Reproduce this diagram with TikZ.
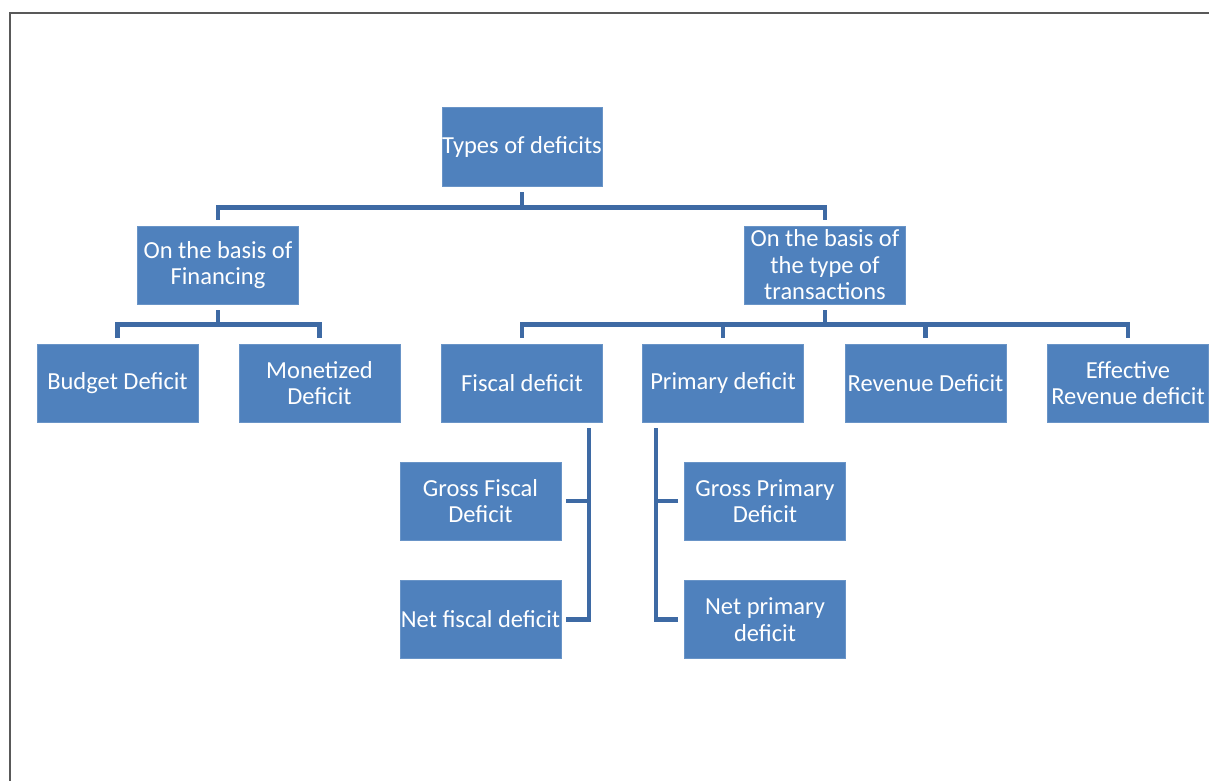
\documentclass[tikz,border=0pt]{standalone}
\usepackage{fontspec}
\setmainfont{Carlito}
\definecolor{boxblue}{HTML}{4F81BD}
\definecolor{lineblue}{RGB}{62,106,164}
\tikzset{
  dbox/.style={fill=boxblue, draw=boxblue!85!white, line width=0.8pt, text=white, align=center,
    minimum width=161pt, minimum height=78pt, inner sep=0pt,
    font=\fontsize{24.5}{26.5}\selectfont},
  conn/.style={draw=lineblue, line width=4.5pt},
}
\begin{document}
\begin{tikzpicture}[x=1pt,y=-1pt]
\useasboundingbox (0,0) rectangle (1209,780);
\fill[white] (0,0) rectangle (1209,780);
\draw[gray!70!black, line width=2.5pt] (10,782) -- (10,13) -- (1211,13);

\node[dbox, minimum width=160pt, minimum height=79pt] (root) at (522,146.5) {Types of deficits};
\node[dbox] (fin) at (218,265) {On the basis of\\Financing};
\node[dbox] (trans) at (825,265) {On the basis of\\the type of\\transactions};

\node[dbox] (budget) at (117.5,383) {Budget Deficit};
\node[dbox] (monet) at (319.5,383) {Monetized\\Deficit};
\node[dbox] (fiscal) at (522,383) {Fiscal deficit};
\node[dbox] (primary) at (723,383) {Primary deficit};
\node[dbox] (revenue) at (925.5,383) {Revenue Deficit};
\node[dbox] (effective) at (1128,383) {Effective\\Revenue deficit};

\node[dbox] (gfd) at (480.5,501) {Gross Fiscal\\Deficit};
\node[dbox] (nfd) at (480.5,619.5) {Net fiscal deficit};
\node[dbox] (gpd) at (765,501) {Gross Primary\\Deficit};
\node[dbox] (npd) at (765,619.5) {Net primary\\deficit};

% level 1
\draw[conn] ([yshift=-6pt]root.south) -- ++(0,15) coordinate (j1);
\draw[conn] ([yshift=6pt]fin.north) |- (j1) -| ([yshift=6pt]trans.north);

% financing children
\draw[conn] ([yshift=-6pt]fin.south) -- ++(0,14) coordinate (j2);
\draw[conn] ([yshift=6pt]budget.north) |- (j2) -| ([yshift=6pt]monet.north);

% transaction children
\draw[conn] ([yshift=-6pt]trans.south) -- ++(0,14) coordinate (j3);
\draw[conn] ([yshift=6pt]fiscal.north) |- (j3) -| ([yshift=6pt]effective.north);
\draw[conn] ([yshift=6pt]primary.north) -- (primary.north |- j3);
\draw[conn] ([yshift=6pt]revenue.north) -- (revenue.north |- j3);

% fiscal children
\coordinate (fv) at (589,428);
\draw[conn] (fv) |- ([xshift=5pt]nfd.east);
\draw[conn] ([xshift=5pt]gfd.east) -- (gfd.east -| fv);

% primary children
\coordinate (pv) at (656,428);
\draw[conn] (pv) |- ([xshift=-6pt]npd.west);
\draw[conn] ([xshift=-6pt]gpd.west) -- (gpd.west -| pv);
\end{tikzpicture}
\end{document}
